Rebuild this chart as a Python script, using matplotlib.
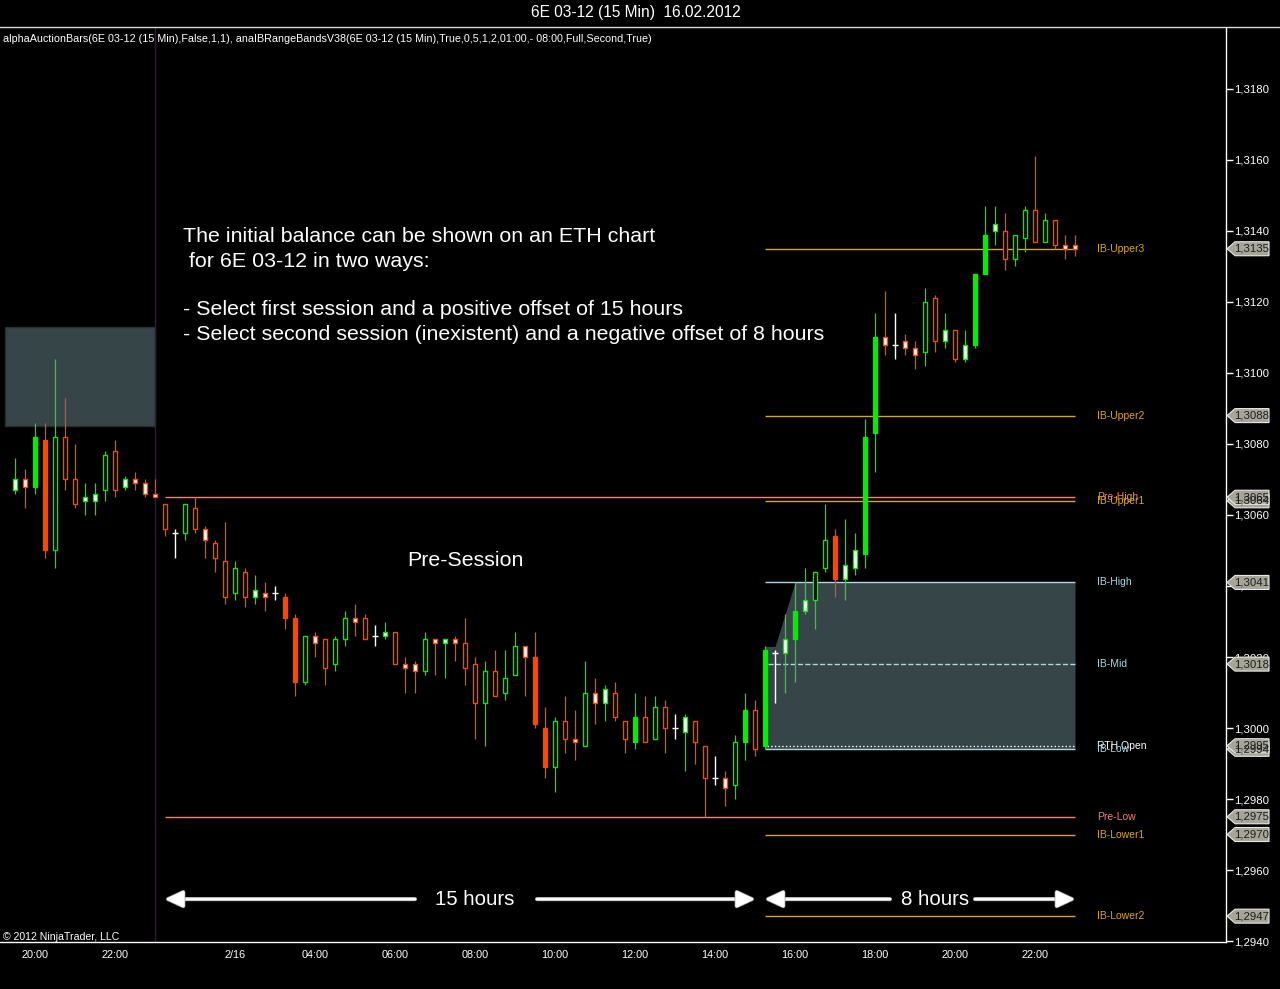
import numpy as np
import matplotlib
matplotlib.use("Agg")
import matplotlib.pyplot as plt
from matplotlib.patches import Rectangle, Polygon, FancyArrowPatch
import matplotlib.patheffects as pe

plt.rcParams['font.family'] = ['Liberation Sans', 'DejaVu Sans']

# 15 min bars of 6E 03-12, 15.02 19:30 .. 16.02 23:00 (bar index = position)
opens = [1.3067, 1.3070, 1.3068, 1.3081, 1.3050, 1.3082, 1.3070, 1.3064, 1.3064, 1.3067,
         1.3078, 1.3068, 1.3070, 1.3069, 1.3066, 1.3063, 1.3055, 1.3055, 1.3062, 1.3056,
         1.3052, 1.3047, 1.3038, 1.3044, 1.3037, 1.3038, 1.3038, 1.3037, 1.3031, 1.3013,
         1.3026, 1.3025, 1.3018, 1.3025, 1.3031, 1.3031, 1.3026, 1.3026, 1.3027, 1.3018,
         1.3018, 1.3016, 1.3025, 1.3024, 1.3025, 1.3024, 1.3018, 1.3007, 1.3016, 1.3010,
         1.3015, 1.3023, 1.3020, 1.3000, 1.2989, 1.3002, 1.2997, 1.2995, 1.3010, 1.3007,
         1.3010, 1.3002, 1.2996, 1.3003, 1.2997, 1.3006, 1.3000, 1.2999, 1.3002, 1.2995,
         1.2986, 1.2986, 1.2984, 1.2996, 1.3005, 1.2995, 1.3021, 1.3021, 1.3025, 1.3033,
         1.3036, 1.3045, 1.3054, 1.3042, 1.3045, 1.3049, 1.3083, 1.3110, 1.3108, 1.3109,
         1.3107, 1.3106, 1.3121, 1.3109, 1.3112, 1.3104, 1.3108, 1.3128, 1.3140, 1.3140,
         1.3132, 1.3138, 1.3146, 1.3137, 1.3143, 1.3136, 1.3136]
highs = [1.3076, 1.3073, 1.3086, 1.3086, 1.3104, 1.3093, 1.3080, 1.3069, 1.3069, 1.3078,
         1.3081, 1.3071, 1.3072, 1.3070, 1.3070, 1.3063, 1.3056, 1.3063, 1.3065, 1.3057,
         1.3053, 1.3058, 1.3047, 1.3045, 1.3043, 1.3041, 1.3040, 1.3038, 1.3032, 1.3026,
         1.3027, 1.3025, 1.3026, 1.3033, 1.3035, 1.3032, 1.3029, 1.3030, 1.3027, 1.3020,
         1.3019, 1.3027, 1.3025, 1.3025, 1.3026, 1.3031, 1.3020, 1.3019, 1.3022, 1.3022,
         1.3027, 1.3023, 1.3027, 1.3006, 1.3003, 1.3009, 1.3005, 1.3019, 1.3014, 1.3012,
         1.3013, 1.3002, 1.3010, 1.3009, 1.3009, 1.3008, 1.3004, 1.3004, 1.3002, 1.2995,
         1.2992, 1.2988, 1.2998, 1.3010, 1.3008, 1.3023, 1.3022, 1.3032, 1.3041, 1.3045,
         1.3044, 1.3063, 1.3056, 1.3059, 1.3055, 1.3087, 1.3117, 1.3123, 1.3117, 1.3111,
         1.3109, 1.3124, 1.3122, 1.3117, 1.3112, 1.3112, 1.3128, 1.3147, 1.3147, 1.3145,
         1.3139, 1.3147, 1.3161, 1.3145, 1.3143, 1.3139, 1.3139]
lows = [1.3066, 1.3062, 1.3066, 1.3048, 1.3045, 1.3067, 1.3062, 1.3060, 1.3060, 1.3064,
        1.3065, 1.3067, 1.3067, 1.3065, 1.3065, 1.3054, 1.3048, 1.3053, 1.3055, 1.3048,
        1.3044, 1.3035, 1.3036, 1.3034, 1.3035, 1.3033, 1.3036, 1.3028, 1.3009, 1.3012,
        1.3020, 1.3012, 1.3016, 1.3023, 1.3026, 1.3025, 1.3023, 1.3025, 1.3018, 1.3010,
        1.3010, 1.3015, 1.3015, 1.3014, 1.3019, 1.3012, 1.2997, 1.2995, 1.3009, 1.3008,
        1.3015, 1.3009, 1.3000, 1.2986, 1.2982, 1.2993, 1.2991, 1.2995, 1.3001, 1.3002,
        1.3002, 1.2993, 1.2994, 1.2996, 1.2997, 1.2993, 1.2997, 1.2988, 1.2990, 1.2975,
        1.2984, 1.2978, 1.2980, 1.2991, 1.2992, 1.2994, 1.3007, 1.3010, 1.3013, 1.3032,
        1.3028, 1.3044, 1.3037, 1.3036, 1.3043, 1.3045, 1.3072, 1.3105, 1.3104, 1.3105,
        1.3101, 1.3102, 1.3106, 1.3107, 1.3103, 1.3103, 1.3107, 1.3128, 1.3136, 1.3129,
        1.3130, 1.3134, 1.3137, 1.3137, 1.3135, 1.3132, 1.3133]
closes = [1.3070, 1.3068, 1.3082, 1.3050, 1.3082, 1.3070, 1.3063, 1.3065, 1.3066, 1.3077,
          1.3067, 1.3070, 1.3069, 1.3066, 1.3065, 1.3056, 1.3055, 1.3063, 1.3056, 1.3053,
          1.3048, 1.3037, 1.3045, 1.3037, 1.3039, 1.3037, 1.3038, 1.3031, 1.3013, 1.3026,
          1.3024, 1.3017, 1.3025, 1.3031, 1.3030, 1.3025, 1.3026, 1.3027, 1.3018, 1.3017,
          1.3016, 1.3025, 1.3024, 1.3025, 1.3024, 1.3017, 1.3007, 1.3016, 1.3009, 1.3014,
          1.3023, 1.3020, 1.3001, 1.2989, 1.3002, 1.2997, 1.2996, 1.3010, 1.3007, 1.3011,
          1.3003, 1.2997, 1.3003, 1.2996, 1.3006, 1.3000, 1.3000, 1.3003, 1.2996, 1.2986,
          1.2986, 1.2983, 1.2996, 1.3005, 1.2994, 1.3022, 1.3021, 1.3025, 1.3033, 1.3036,
          1.3044, 1.3053, 1.3042, 1.3046, 1.3050, 1.3082, 1.3110, 1.3108, 1.3108, 1.3107,
          1.3105, 1.3120, 1.3109, 1.3112, 1.3104, 1.3108, 1.3128, 1.3139, 1.3142, 1.3132,
          1.3139, 1.3146, 1.3137, 1.3143, 1.3136, 1.3135, 1.3135]
# f = filled body, w = white inside, h = hollow (black inside), d = doji
styles = ("wwffhhhwwh" "hwwwwhdhhw" "hhhhwwdffh" "whhhwhdwhw" "whwwwhhhhh"
          "hwffhhwhww" "hhfhhhdwhh" "dwhfhfdwfw" "hhfwwffwdw" "whhwhwffwh" "hhhhhww")

tick_pos = [2, 10, 22, 30, 38, 46, 54, 62, 70, 78, 86, 94, 102]
tick_labels = ['20:00', '22:00', '2/16', '04:00', '06:00', '08:00', '10:00', '12:00',
               '14:00', '16:00', '18:00', '20:00', '22:00']
y_ticks = [1.2940, 1.2960, 1.2980, 1.3000, 1.3020, 1.3040, 1.3060, 1.3080, 1.3100,
           1.3120, 1.3140, 1.3160, 1.3180]

session_break = 14
pre_start, ib_start, last_bar = 15, 75, 106
ib_bars = 4
prev_box = (-1.0, 14.0, 1.3085, 1.3113)

# level name, value, colour, line style, first bar
levels = [
    ('IB-Upper3', 1.3135, '#daa520', '-', ib_start),
    ('IB-Upper2', 1.3088, '#daa520', '-', ib_start),
    ('Pre-High', 1.3065, '#fa8072', '-', pre_start),
    ('IB-Upper1', 1.3064, '#daa520', '-', ib_start),
    ('IB-High', 1.3041, '#add8e6', '-', ib_start),
    ('IB-Mid', 1.3018, '#add8e6', '--', ib_start + 0.3),
    ('RTH Open', 1.2995, 'white', ':', ib_start + 0.2),
    ('IB-Low', 1.2994, '#add8e6', '-', ib_start),
    ('Pre-Low', 1.2975, '#fa8072', '-', pre_start),
    ('IB-Lower1', 1.2970, '#daa520', '-', ib_start),
    ('IB-Lower2', 1.2947, '#daa520', '-', ib_start),
]
marker_order = ['IB-Upper1', 'IB-Low', 'IB-Upper3', 'IB-Upper2', 'Pre-High', 'IB-High',
                'IB-Mid', 'RTH Open', 'Pre-Low', 'IB-Lower1', 'IB-Lower2']

up_col, dn_col = '#00ee00', '#ff4500'
box_col = '#364548'

W, H = 1280, 989
fig = plt.figure(figsize=(W / 100, H / 100), dpi=100, facecolor='black')
ax = fig.add_axes([0, 1 - 942 / H, 1226 / W, (942 - 28) / H])
ax.set_facecolor('black')
ax.set_xlim(-1.5, 121.1)
ax.set_ylim(1.293972, 1.319718)

# previous day box and session break
ax.add_patch(Rectangle((prev_box[0], prev_box[2]), prev_box[1] - prev_box[0],
                       prev_box[3] - prev_box[2], fc=box_col, ec='#263032', lw=1, zorder=1))
ax.axvline(session_break, color='#3d1640', lw=1, zorder=1)

# initial balance area (running high / low during the first hour)
ib_x = np.arange(ib_start, last_bar + 1)
run_hi = np.maximum.accumulate(highs[ib_start:ib_start + ib_bars])
run_lo = np.minimum.accumulate(lows[ib_start:ib_start + ib_bars])
top = np.concatenate([run_hi, np.full(len(ib_x) - ib_bars, run_hi[-1])])
bot = np.concatenate([run_lo, np.full(len(ib_x) - ib_bars, run_lo[-1])])
ax.fill_between(ib_x, bot, top, color=box_col, lw=0, zorder=1)

# level lines
for name, val, col, ls, x0 in levels:
    ax.hlines(val, x0, last_bar, colors=col, linestyles=ls, lw=1, zorder=2)
    ax.text(108.2, val, name, color=col, fontsize=7.5, va='center', ha='left', zorder=5)

# candles
bw = 0.32
for i in range(len(opens)):
    o, h, l, c, s = opens[i], highs[i], lows[i], closes[i], styles[i]
    if s == 'd':
        ax.vlines(i, l, h, colors='white', lw=1, zorder=3)
        ax.hlines(c, i - 0.3, i + 0.3, colors='white', lw=1, zorder=3)
        continue
    col = up_col if c > o else dn_col
    ax.vlines(i, l, h, colors=col, lw=0.9, zorder=3)
    fc = {'f': col, 'w': 'white', 'h': 'black'}[s]
    ax.add_patch(Rectangle((i - bw / 2, min(o, c)), bw, max(abs(c - o), 0.00003),
                           fc=fc, ec=col, lw=1.0, zorder=4))

# axes styling
for side in ['top', 'left']:
    ax.spines[side].set_visible(False)
for side in ['right', 'bottom']:
    ax.spines[side].set_color('white')
    ax.spines[side].set_linewidth(1)
ax.yaxis.tick_right()
ax.set_yticks(y_ticks)
ax.set_yticklabels([f"{v:.4f}".replace('.', ',') for v in y_ticks])
ax.tick_params(axis='y', colors='white', length=5, width=1, labelsize=8.2, pad=0.8)
ax.set_xticks(tick_pos)
ax.set_xticklabels(tick_labels)
ax.tick_params(axis='x', colors='white', length=0, labelsize=7.8, pad=6)

# time span arrows
arrow_y = 1.29518
spans = [(15, 40, 52.2, 74, '15 hours', 46), (75, 87.5, 96, 106, '8 hours', 92)]
for a0, a1, b0, b1, lab, xm in spans:
    for tail, head in [((a1, arrow_y), (a0, arrow_y)), ((b0, arrow_y), (b1, arrow_y))]:
        arr = FancyArrowPatch(tail, head, arrowstyle='-|>,head_length=0.9,head_width=0.42',
                              mutation_scale=12, color='white', lw=2.0, shrinkA=0, shrinkB=0,
                              zorder=6)
        arr.set_path_effects([pe.Stroke(linewidth=3.0, foreground='#9a9a9a'), pe.Normal()])
        ax.add_patch(arr)
    ax.text(xm, arrow_y, lab, color='white', fontsize=14.7, ha='center', va='center', zorder=6)

# overlay in pixel coordinates for header, notes and price markers
ov = fig.add_axes([0, 0, 1, 1])
ov.set_xlim(0, W)
ov.set_ylim(H, 0)
ov.axis('off')
ov.patch.set_alpha(0)

ov.text(636, 13, '6E 03-12 (15 Min)  16.02.2012', color='white', fontsize=11.2,
        ha='center', va='center')
ov.plot([0, W], [27, 27], color='#d8d8d8', lw=1)
ov.text(3, 39, 'alphaAuctionBars(6E 03-12 (15 Min),False,1,1), anaIBRangeBandsV38(6E 03-12 '
        '(15 Min),True,0,5,1,2,01:00,- 08:00,Full,Second,True)', color='white',
        fontsize=7.75, ha='left', va='center')
ov.text(3, 937, '\u00a9 2012 NinjaTrader, LLC', color='white', fontsize=7.6,
        ha='left', va='center')

notes = ['The initial balance can be shown on an ETH chart',
         ' for 6E 03-12 in two ways:',
         '',
         '- Select first session and a positive offset of 15 hours',
         '- Select second session (inexistent) and a negative offset of 8 hours']
for k, line in enumerate(notes):
    ov.text(183, 237 + 24.3 * k, line, color='white', fontsize=15.4, ha='left', va='center')
ov.text(465, 561, 'Pre-Session', color='white', fontsize=15.4, ha='center', va='center')

# price markers on the right axis
lv = {name: val for name, val, _, _, _ in levels}
for name in marker_order:
    val = lv[name]
    yp = H - ax.transData.transform((0, val))[1]
    ov.add_patch(Polygon([(1227, yp), (1235, yp - 7), (1269, yp - 7), (1269, yp + 7),
                          (1235, yp + 7)], closed=True, fc='#a6a598', ec='#e8e8e8', lw=0.8))
    ov.text(1252, yp, f"{val:.4f}".replace('.', ','), color='#1e1e1e', fontsize=8.2,
            ha='center', va='center')

fig.savefig('out.png', dpi=100, facecolor='black')
